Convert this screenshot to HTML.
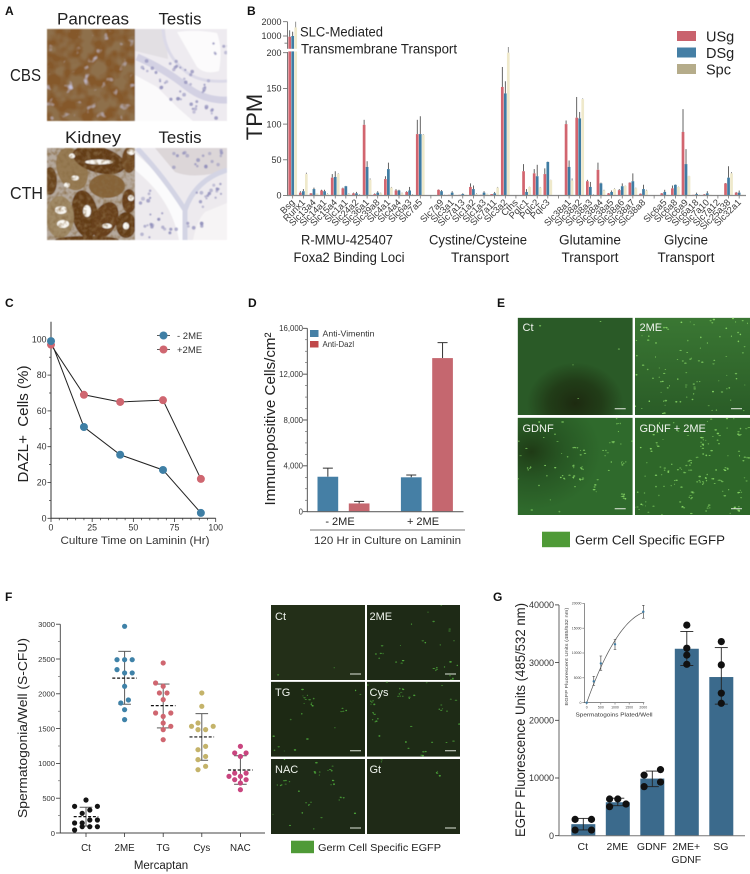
<!DOCTYPE html>
<html lang="en">
<head>
<meta charset="utf-8">
<title>Multi-panel figure</title>
<style>
html,body{margin:0;padding:0;background:#fff;}
svg{display:block;font-family:"Liberation Sans",sans-serif;}
.pl{font-weight:bold;font-size:12px;fill:#111;}
.im{font-size:11px;fill:#f0f4ee;}
</style>
</head>
<body>
<svg id="fig" xmlns="http://www.w3.org/2000/svg" width="750" height="874" viewBox="0 0 750 874">
<defs>
<filter id="mot1" x="0" y="0" width="1" height="1"><feTurbulence type="fractalNoise" baseFrequency="0.085" numOctaves="2" seed="4"/><feColorMatrix values="0 0 0 0 0.27 0 0 0 0 0.16 0 0 0 0 0.07 3.4 0 0 0 -1.2"/></filter>
<filter id="mot2" x="0" y="0" width="1" height="1"><feTurbulence type="fractalNoise" baseFrequency="0.11" numOctaves="2" seed="9"/><feColorMatrix values="0 0 0 0 0.56 0 0 0 0 0.54 0 0 0 0 0.72 0 5 0 0 -3.25"/></filter>
<filter id="mot3" x="0" y="0" width="1" height="1"><feTurbulence type="fractalNoise" baseFrequency="0.25" numOctaves="2" seed="2"/><feColorMatrix values="0 0 0 0 0.25 0 0 0 0 0.15 0 0 0 0 0.06 2 0 0 0 -0.85"/></filter>
<filter id="soft" x="-5%" y="-5%" width="110%" height="110%"><feGaussianBlur stdDeviation="0.5"/></filter>
<radialGradient id="gEct" cx=".5" cy=".88" r=".42"><stop offset="0" stop-color="#1d2a10"/><stop offset=".55" stop-color="#1f3514" stop-opacity=".8"/><stop offset="1" stop-color="#1f3514" stop-opacity="0"/></radialGradient>
<linearGradient id="gE2" x1="0" y1="0" x2="0" y2="1"><stop offset="0" stop-color="#3a7733"/><stop offset="1" stop-color="#2a5c27"/></linearGradient>
<radialGradient id="gEg" cx=".12" cy=".35" r=".6"><stop offset="0" stop-color="#1f3a15"/><stop offset=".5" stop-color="#224a1e" stop-opacity=".55"/><stop offset="1" stop-color="#224a1e" stop-opacity="0"/></radialGradient>
</defs>
<rect width="750" height="874" fill="#fff"/>

<g>
  <g id="imgA" filter="url(#soft)"></g>
  <text class="pl" x="5" y="15">A</text>
  <text x="93" y="24.5" text-anchor="middle" font-size="17" fill="#222" textLength="72" lengthAdjust="spacingAndGlyphs">Pancreas</text>
  <text x="180" y="24.5" text-anchor="middle" font-size="17" fill="#222" textLength="43" lengthAdjust="spacingAndGlyphs">Testis</text>
  <text x="93" y="143" text-anchor="middle" font-size="17" fill="#222" textLength="56" lengthAdjust="spacingAndGlyphs">Kidney</text>
  <text x="180" y="143" text-anchor="middle" font-size="17" fill="#222" textLength="43" lengthAdjust="spacingAndGlyphs">Testis</text>
  <text x="10" y="81" font-size="17.5" fill="#222" textLength="31" lengthAdjust="spacingAndGlyphs">CBS</text>
  <text x="10" y="199" font-size="17.5" fill="#222" textLength="33" lengthAdjust="spacingAndGlyphs">CTH</text>
</g>

<g>
  <text class="pl" x="247" y="15">B</text>
  <g id="chartB"></g>
  <text x="300" y="36.5" font-size="13.5" fill="#222" textLength="83" lengthAdjust="spacingAndGlyphs">SLC-Mediated</text>
  <text x="301" y="53.5" font-size="13.5" fill="#222" textLength="156" lengthAdjust="spacingAndGlyphs">Transmembrane Transport</text>
  <text transform="translate(262,117) rotate(-90)" text-anchor="middle" font-size="22" fill="#222">TPM</text>
  <text x="347" y="244.5" text-anchor="middle" font-size="13.5" fill="#222" textLength="92" lengthAdjust="spacingAndGlyphs">R-MMU-425407</text>
  <text x="349" y="262" text-anchor="middle" font-size="13.5" fill="#222" textLength="111" lengthAdjust="spacingAndGlyphs">Foxa2 Binding Loci</text>
  <text x="478" y="244.5" text-anchor="middle" font-size="13.5" fill="#222" textLength="98" lengthAdjust="spacingAndGlyphs">Cystine/Cysteine</text>
  <text x="480" y="262" text-anchor="middle" font-size="13.5" fill="#222" textLength="58" lengthAdjust="spacingAndGlyphs">Transport</text>
  <text x="590" y="244.5" text-anchor="middle" font-size="13.5" fill="#222" textLength="62" lengthAdjust="spacingAndGlyphs">Glutamine</text>
  <text x="590" y="262" text-anchor="middle" font-size="13.5" fill="#222" textLength="57" lengthAdjust="spacingAndGlyphs">Transport</text>
  <text x="686" y="244.5" text-anchor="middle" font-size="13.5" fill="#222" textLength="44" lengthAdjust="spacingAndGlyphs">Glycine</text>
  <text x="686" y="262" text-anchor="middle" font-size="13.5" fill="#222" textLength="57" lengthAdjust="spacingAndGlyphs">Transport</text>
  <g>
    <rect x="677" y="31" width="19" height="10" fill="#c9626d"/>
    <text x="706" y="41.5" font-size="14.5" fill="#222">USg</text>
    <rect x="677" y="47.5" width="19" height="10" fill="#457fa5"/>
    <text x="706" y="58" font-size="14.5" fill="#222">DSg</text>
    <rect x="677" y="64" width="19" height="10" fill="#b5ac8a"/>
    <text x="706" y="74.5" font-size="14.5" fill="#222">Spc</text>
  </g>
</g>

<g>
  <text class="pl" x="5" y="307">C</text>
  <g id="chartC"></g>
  <text x="135" y="544" text-anchor="middle" font-size="11" fill="#333" textLength="149" lengthAdjust="spacingAndGlyphs">Culture Time on Laminin (Hr)</text>
  <text transform="translate(28,424) rotate(-90)" text-anchor="middle" font-size="15" fill="#222" textLength="117" lengthAdjust="spacingAndGlyphs" style="white-space:pre">DAZL+  Cells (%)</text>
</g>

<g>
  <text class="pl" x="248" y="307">D</text>
  <g id="chartD"></g>
  <line x1="310" y1="530" x2="465" y2="530" stroke="#777" stroke-width="1"/>
  <text x="387.5" y="544" text-anchor="middle" font-size="11" fill="#333" textLength="147" lengthAdjust="spacingAndGlyphs">120 Hr in Culture on Laminin</text>
  <text transform="translate(275,419) rotate(-90)" text-anchor="middle" font-size="15" fill="#222" textLength="173" lengthAdjust="spacingAndGlyphs">Immunopositive Cells/cm²</text>
  <g>
    <rect x="310" y="330" width="8.5" height="7" fill="#457fa5"/>
    <text x="322.5" y="336.5" font-size="7.8" fill="#333" textLength="52" lengthAdjust="spacingAndGlyphs">Anti-Vimentin</text>
    <rect x="310" y="341" width="8.5" height="6.5" fill="#c0484a"/>
    <text x="322.5" y="347" font-size="7.8" fill="#333">Anti-Dazl</text>
  </g>
</g>

<g>
  <text class="pl" x="497" y="307">E</text>
  <g id="imgE"></g>
  <text class="im" x="522.5" y="331">Ct</text>
  <text class="im" x="639.5" y="331">2ME</text>
  <text class="im" x="522.5" y="432">GDNF</text>
  <text class="im" x="639.5" y="432">GDNF + 2ME</text>
  <rect x="542" y="531.7" width="28" height="15.5" fill="#4f9a37"/>
  <text x="575" y="544.5" font-size="12.5" fill="#222" textLength="150" lengthAdjust="spacingAndGlyphs">Germ Cell Specific EGFP</text>
</g>

<g>
  <text class="pl" x="5" y="601">F</text>
  <g id="chartF"></g>
  <text x="161" y="869" text-anchor="middle" font-size="11.5" fill="#222">Mercaptan</text>
  <text transform="translate(27,728) rotate(-90)" text-anchor="middle" font-size="12.5" fill="#222" textLength="180" lengthAdjust="spacingAndGlyphs">Spermatogonia/Well (S-CFU)</text>
  <g id="imgF"></g>
  <text class="im" x="275" y="620">Ct</text>
  <text class="im" x="369.5" y="620">2ME</text>
  <text class="im" x="275" y="696">TG</text>
  <text class="im" x="369.5" y="696">Cys</text>
  <text class="im" x="275" y="773">NAC</text>
  <text class="im" x="369.5" y="773">Gt</text>
  <rect x="291" y="840.7" width="23" height="12.5" fill="#4f9a37"/>
  <text x="318" y="851" font-size="10.3" fill="#222" textLength="123" lengthAdjust="spacingAndGlyphs">Germ Cell Specific EGFP</text>
</g>

<g>
  <text class="pl" x="493" y="601">G</text>
  <g id="chartG"></g>
  <text transform="translate(525,720) rotate(-90)" text-anchor="middle" font-size="13.5" fill="#222" textLength="234" lengthAdjust="spacingAndGlyphs">EGFP Fluorescence Units (485/532 nm)</text>
  <g id="chartInset"></g>
  <text x="614" y="716.7" text-anchor="middle" font-size="5.4" fill="#333" textLength="77" lengthAdjust="spacingAndGlyphs">Spermatogoins Plated/Well</text>
  <text transform="translate(568,656.6) rotate(-90)" text-anchor="middle" font-size="4.6" fill="#444" textLength="98" lengthAdjust="spacingAndGlyphs">EGFP Fluorescent Units (485/532 nm)</text>
</g>
</svg>

<script>
// ---- Panel B data ----
const bGenes = ["Bsg","Runx1","Slc13a4","Slc14a1","Slc15a4","Slc1a1","Slc24a2","Slc36a1","Slc39a8","Slc4a1","Slc4a4","Slc6a3","Slc7a5","","Slc7a9","Slc3a1","Slc7a13","Slc1a2","Slc1a3","Slc7a11","Slc3a2","Cths","Pqlc1","Pqlc2","Pqlc3","","Slc38a1","Slc38a2","Slc38a3","Slc38a4","Slc38a5","Slc38a6","Slc38a7","Slc38a8","","Slc6a5","Slc6a8","Slc6a9","Slc6a18","Slc7a10","Slc7a12","Slc25a38","Slc32a1"];
const bUsg = [950,4,3,7,25,10,3,99,2,23,7,5,86,0,8,1,1,12,1,2,152,0,34,31,30,0,100,109,20,36,3,7.5,18,2.5,0,3,10,89,1,1.5,0,17,4];
const bUsgErr = [1400,6,3.5,8,30,11,4,106,3,27,9,6,106,0,8.5,1,1,17,1,2,180,0,44,37,38,0,105,138,22,46,3.5,9,18.5,3,0,3.5,14,121,1,2,0,17.5,5];
const bDsg = [1000,6,9,6,26,13,3,40,4,37,7,7,86,0,6,4,2,9,4,3,143,0,5,27,47,0,40,108,12,17,5,13,20,9,0,5,15,44,2,3,0,25,4];
const bDsgErr = [1300,9,11,8,34,13.5,5,48,6,46,8,12,111,0,7.5,6,3,14,6,5,160,0,9,43,47.5,0,49,117,19,18,7,17,31,15,0,8,15.5,65,4,6,0,41,7];
const bSpc = [1600,30,3,2,30,2,1,22,3,11,3,1,85,0,0.5,1,1,2,2,11,200,0,12,11,21.5,0,21,135,1,7,9,13.5,10,7,0,1,12,27,0.5,1,0,31,1];
const bSpcErr = [2000,32,3,3,31,3,2,24,4,12,4,2,86,0,1,1,1,3,2.5,12,208,0,12.5,12,22,0,24,136,2,8,10,14,11,8,0,1,12.5,27.5,1,1,0,33,1];
const bTicksLow = [0,50,100,150,200];
const bTicksHigh = [1000,2000];
// ---- Panel C data ----
const cHours = [0,20,42,68,91];
const cMinus2me = [99,51,35.5,27,3];
const cPlus2me = [97,69,65,66,22];
const cXTicks = [0,25,50,75,100];
const cYTicks = [0,20,40,60,80,100];
// ---- Panel D data ----
const dGroups = ["- 2ME","+ 2ME"];
const dVimentin = [3050,3000];
const dVimentinErr = [3800,3200];
const dDazl = [720,13400];
const dDazlErr = [900,14750];
const dYTicks = [0,4000,8000,12000,16000];
// ---- Panel F data ----
const fCats = ["Ct","2ME","TG","Cys","NAC"];
const fMeans = [235,2225,1830,1380,905];
const fSdLow = [100,1850,1510,1045,700];
const fSdHigh = [370,2610,2140,1715,1110];
const fCtValues = [474,383,383,283,330,144,144,187,187,43,91,91,91];
const fCtSlots = [0,-3,3,-1,1,-3,-1,1,3,-3,-1,1,3];
const f2meValues = [2970,2490,2490,2490,2347,2300,2300,2108,1868,1911,1772,1629];
const f2meSlots = [0,-2,0,2,-2,0,2,0,-1,1,0,0];
const fTgValues = [2443,2155,2108,2012,2012,1916,1724,1724,1676,1580,1485,1533,1341];
const fTgSlots = [0,-2,0,-1,1,0,-2,2,0,0,0,2,0];
const fCysValues = [2012,1820,1580,1533,1533,1485,1485,1197,1245,1100,1054,910,958];
const fCysSlots = [0,0,-1,-2.7,3,-1,1,-1,1,1,-1,-1,1];
const fNacValues = [1245,1150,1150,1100,860,860,814,814,766,766,718,622];
const fNacSlots = [0,-1.5,1.5,0,-1.5,1.5,-3,0,-1.5,1.5,0,0];
const fYTicks = [0,500,1000,1500,2000,2500,3000];
// ---- Panel G data ----
const gCats = ["Ct","2ME","GDNF","2ME+","SG"];
const gMeans = [2000,5800,9900,32400,27500];
const gErrLow = [1000,5200,8500,29500,22800];
const gErrHigh = [3000,6500,11200,35400,32600];
const gPoints = [[2830,2830,980,980],[6360,6360,5030,5490],[10500,11450,8500,9300],[36500,32500,31300,29700],[33640,29600,24700,22950]];
const gPointSlots = [[-1,1,-1,1],[-1,0,-1,1],[-1,1,-1,1],[0,0,0,0],[0,0,0,0]];
const gYTicks = [0,10000,20000,30000,40000];
// ---- Inset data ----
const insetX = [0,250,500,1000,2000];
const insetY = [0,4300,7900,11750,18300];
const insetLow = [0,3500,6500,10700,17000];
const insetHigh = [0,5300,9400,12700,19600];
const insetXTicks = [0,500,1000,1500,2000];
const insetYTicks = [0,5000,10000,15000,20000];

const NS = "http://www.w3.org/2000/svg";
function mk(tag, attrs, parent, txt){
  const n = document.createElementNS(NS, tag);
  for (const k in attrs) n.setAttribute(k, attrs[k]);
  if (txt !== undefined) n.textContent = txt;
  parent.appendChild(n);
  return n;
}
function drawLine(p, x1, y1, x2, y2, stroke, w, name){
  const l = mk('line', {x1:x1, y1:y1, x2:x2, y2:y2, stroke:stroke, 'stroke-width':w}, p);
  
  
  return l;
}
function drawRect(p, x, y, w, h, fill, name){
  const r = mk('rect', {x:x, y:y, width:w, height:Math.max(0,h), fill:fill}, p);
  
  
  return r;
}
function drawDot(p, x, y, rad, fill, name){
  const c = mk('circle', {cx:x, cy:y, r:rad, fill:fill}, p);
  
  
  return c;
}
function drawLabel(p, x, y, s, size, anchor, fill, name){
  const t = mk('text', {x:x, y:y, 'font-size':size, 'text-anchor':anchor, fill:fill}, p, s);
  
  
  return t;
}
function $(id){ return document.getElementById(id); }
function fmt(v){ return String(v).replace(/\B(?=(\d{3})+$)/g, ','); }

// ---------- Panel B ----------
(function(){
  const g = $('chartB');
  const xB = i => 292.7 + i * 10.63;
  const yB = v => v <= 210 ? 195.5 - v * 0.714 : 36 - (v - 1000) * 0.0143;
  const barW = 2.7;
  const series = [
    {vals:bUsg, errs:bUsgErr, dx:-3, fill:'#d2656f', key:'usg'},
    {vals:bDsg, errs:bDsgErr, dx:0, fill:'#3f7ca3', key:'dsg'},
    {vals:bSpc, errs:bSpcErr, dx:3, fill:'#efe9cb', key:'spc'}
  ];
  bGenes.forEach((gene, i) => {
    if (!gene) return;
    series.forEach(s => {
      const cx = xB(i) + s.dx;
      drawLine(g, cx, yB(s.vals[i]), cx, yB(s.errs[i]), s.key === 'spc' ? '#777' : '#3d3d3d', 0.8, 'error-bar-' + s.key + '-' + gene);
      drawRect(g, cx - barW / 2, yB(s.vals[i]), barW, 195.5 - yB(s.vals[i]), s.fill, 'bar-' + s.key + '-' + gene);
    });
  });
  drawRect(g, 283, 48.8, 22, 2.6, '#ffffff', 'axis-break');
  drawLine(g, 287.5, 195.5, 287.5, 52, '#777', 1, 'y-axis-lower');
  drawLine(g, 287.5, 48.8, 287.5, 21.7, '#777', 1, 'y-axis-upper');
  drawLine(g, 287, 195.5, 746, 195.5, '#8a8a8a', 1.2, 'x-axis-b');
  bTicksLow.forEach(v => {
    drawLine(g, 283, yB(v), 287.5, yB(v), '#666', 0.8, 'y-tick-' + v);
    drawLabel(g, 281.5, yB(v) + 3.2, String(v), 9, 'end', '#333', 'y-tick-label-' + v);
  });
  bTicksHigh.forEach(v => {
    drawLine(g, 283, yB(v), 287.5, yB(v), '#666', 0.8, 'y-tick-' + v);
    drawLabel(g, 281.5, yB(v) + 3.2, String(v), 9, 'end', '#333', 'y-tick-label-' + v);
  });
  drawLine(g, 284.5, yB(500), 287.5, yB(500), '#666', 0.8, 'y-minor-tick-500');
  bGenes.forEach((gene, i) => {
    drawLine(g, xB(i), 195.5, xB(i), 198.5, '#666', 0.7, 'x-tick-' + (gene || 'gap'));
    if (!gene) return;
    const t = drawLabel(g, 0, 0, gene, 9.3, 'end', '#3a3a3a', 'gene-label-' + gene);
    t.setAttribute('transform', 'translate(' + (xB(i) + 2.5) + ',203) rotate(-45)');
  });
})();

// ---------- Panel C ----------
(function(){
  const g = $('chartC');
  const xC = v => 51 + v * 1.647;
  const yC = v => 518.3 - v * 1.79;
  drawLine(g, 51, 518.3, 51, 321.7, '#333', 1, 'y-axis-c');
  drawLine(g, 51, 518.3, 215.7, 518.3, '#333', 1, 'x-axis-c');
  cYTicks.forEach(v => {
    drawLine(g, 47.5, yC(v), 51, yC(v), '#333', 0.8, 'y-tick-c-' + v);
    drawLabel(g, 46.5, yC(v) + 3, String(v), 8.8, 'end', '#333', 'y-tick-label-c-' + v);
    if (v < 100) drawLine(g, 49, yC(v + 10), 51, yC(v + 10), '#333', 0.7, 'y-minor-tick-c-' + (v + 10));
  });
  cXTicks.forEach(v => {
    drawLine(g, xC(v), 518.3, xC(v), 522, '#333', 0.8, 'x-tick-c-' + v);
    drawLabel(g, xC(v), 530.5, String(v), 8.8, 'middle', '#333', 'x-tick-label-c-' + v);
    if (v < 100) for (let m = 5; m < 25; m += 5) drawLine(g, xC(v + m), 518.3, xC(v + m), 520.3, '#333', 0.7, 'x-minor-tick-c-' + (v + m));
  });
  const pathOf = vals => cHours.map((h, i) => (i ? 'L' : 'M') + xC(h) + ' ' + yC(vals[i])).join('');
  const plus = mk('path', {d:pathOf(cPlus2me), fill:'none', stroke:'#222', 'stroke-width':1}, g);
  
  
  const minus = mk('path', {d:pathOf(cMinus2me), fill:'none', stroke:'#222', 'stroke-width':1}, g);
  
  
  cHours.forEach((h, i) => drawDot(g, xC(h), yC(cPlus2me[i]), 4, '#cf6670', 'point-plus-2me-' + h));
  cHours.forEach((h, i) => drawDot(g, xC(h), yC(cMinus2me[i]), 4, '#3f7fa5', 'point-minus-2me-' + h));
  drawLine(g, 157, 335.5, 170, 335.5, '#333', 0.8, 'legend-line-minus-2me');
  drawDot(g, 163.5, 335.5, 4, '#3f7fa5', 'legend-marker-minus-2me');
  drawLabel(g, 177, 339, '- 2ME', 9.5, 'start', '#333', 'legend-label-minus-2me');
  drawLine(g, 157, 349.5, 170, 349.5, '#333', 0.8, 'legend-line-plus-2me');
  drawDot(g, 163.5, 349.5, 4, '#cf6670', 'legend-marker-plus-2me');
  drawLabel(g, 177, 353, '+2ME', 9.5, 'start', '#333', 'legend-label-plus-2me');
})();

// ---------- Panel D ----------
(function(){
  const g = $('chartD');
  const yD = v => 511.7 - v * 0.011463;
  const xD = (grp, s) => 317.5 + grp * 83.4 + s * 31.3;
  const w = 20.7;
  const bar = (vals, errs, s, fill, key) => vals.forEach((v, i) => {
    const x = xD(i, s);
    drawLine(g, x + w / 2, yD(v), x + w / 2, yD(errs[i]), '#333', 1, 'error-bar-' + key + '-' + i);
    drawLine(g, x + w / 2 - 5, yD(errs[i]), x + w / 2 + 5, yD(errs[i]), '#333', 1, 'error-cap-' + key + '-' + i);
    drawRect(g, x, yD(v), w, yD(0) - yD(v), fill, 'bar-' + key + '-' + i);
  });
  bar(dVimentin, dVimentinErr, 0, '#457fa5', 'vimentin');
  bar(dDazl, dDazlErr, 1, '#c5676f', 'dazl');
  drawLine(g, 307.3, 511.7, 307.3, 328.3, '#444', 0.9, 'y-axis-d');
  drawLine(g, 307, 511.7, 463.5, 511.7, '#666', 1.1, 'x-axis-d');
  dYTicks.forEach(v => {
    drawLine(g, 303, yD(v), 307.3, yD(v), '#333', 0.8, 'y-tick-d-' + v);
    drawLabel(g, 303, yD(v) + 2.8, fmt(v), 7.8, 'end', '#333', 'y-tick-label-d-' + v);
    if (v < 16000) for (let m = 1000; m < 4000; m += 1000) drawLine(g, 305, yD(v + m), 307.3, yD(v + m), '#555', 0.6, 'y-minor-tick-d-' + (v + m));
  });
  dGroups.forEach((c, i) => {
    drawLabel(g, 340 + i * 83, 525, c, 11, 'middle', '#222', 'x-group-label-' + i);
  });
})();

// ---------- Panel F dot plot ----------
(function(){
  const g = $('chartF');
  const yF = v => 833 - v * 0.0696;
  const xF = i => 86 + i * 38.6;
  const slot = 3.8;
  const sets = [
    {vals:fCtValues, slots:fCtSlots, color:'#141414'},
    {vals:f2meValues, slots:f2meSlots, color:'#3f82a8'},
    {vals:fTgValues, slots:fTgSlots, color:'#cf6670'},
    {vals:fCysValues, slots:fCysSlots, color:'#c4b36a'},
    {vals:fNacValues, slots:fNacSlots, color:'#c9457f'}
  ];
  drawLine(g, 60.3, 833, 60.3, 624.3, '#444', 0.9, 'y-axis-f');
  drawLine(g, 60, 833, 265, 833, '#444', 0.9, 'x-axis-f');
  fYTicks.forEach(v => {
    drawLine(g, 56, yF(v), 60.3, yF(v), '#333', 0.8, 'y-tick-f-' + v);
    drawLabel(g, 55, yF(v) + 2.8, String(v), 7.6, 'end', '#333', 'y-tick-label-f-' + v);
    if (v < 3000) drawLine(g, 58, yF(v + 250), 60.3, yF(v + 250), '#555', 0.6, 'y-minor-tick-f-' + (v + 250));
  });
  fCats.forEach((c, i) => {
    drawLine(g, xF(i), 833, xF(i), 837, '#333', 0.8, 'x-tick-f-' + c);
    drawLabel(g, xF(i), 851, c, 9.8, 'middle', '#222', 'x-tick-label-f-' + c);
    drawLine(g, xF(i), yF(fSdLow[i]), xF(i), yF(fSdHigh[i]), '#5a5a5a', 1, 'sd-bar-' + c);
    drawLine(g, xF(i) - 6.3, yF(fSdLow[i]), xF(i) + 6.3, yF(fSdLow[i]), '#5a5a5a', 1, 'sd-cap-low-' + c);
    drawLine(g, xF(i) - 6.3, yF(fSdHigh[i]), xF(i) + 6.3, yF(fSdHigh[i]), '#5a5a5a', 1, 'sd-cap-high-' + c);
    sets[i].vals.forEach((v, k) => {
      drawDot(g, xF(i) + sets[i].slots[k] * slot, yF(v), 2.6, sets[i].color, 'point-' + c + '-' + k);
    });
    const d = drawLine(g, xF(i) - 12.3, yF(fMeans[i]), xF(i) + 12.3, yF(fMeans[i]), '#111', 1.2, 'mean-line-' + c);
    d.setAttribute('stroke-dasharray', '3 1.8');
  });
})();

// ---------- Panel G ----------
(function(){
  const g = $('chartG');
  const yG = v => 835.7 - v * 0.00577;
  const xG = i => 583.3 + i * 34.5;
  gCats.forEach((c, i) => {
    drawRect(g, xG(i) - 12, yG(gMeans[i]), 24, yG(0) - yG(gMeans[i]), '#3b6a8c', 'bar-' + c);
    drawLine(g, xG(i), yG(gErrLow[i]), xG(i), yG(gErrHigh[i]), '#222', 0.9, 'error-bar-' + c);
    drawLine(g, xG(i) - 6.5, yG(gErrLow[i]), xG(i) + 6.5, yG(gErrLow[i]), '#222', 0.9, 'error-cap-low-' + c);
    drawLine(g, xG(i) - 6.5, yG(gErrHigh[i]), xG(i) + 6.5, yG(gErrHigh[i]), '#222', 0.9, 'error-cap-high-' + c);
    gPoints[i].forEach((v, k) => {
      drawDot(g, xG(i) + gPointSlots[i][k] * 8.2, yG(v), 3.6, '#111', 'point-' + c + '-' + k);
    });
    drawLabel(g, xG(i) - 0.5, 850, c, 10.5, 'middle', '#222', 'x-tick-label-g-' + c);
  });
  drawLabel(g, xG(3) - 0.5, 863, 'GDNF', 10.5, 'middle', '#222', 'x-tick-label-g-gdnf-line-2');
  drawLine(g, 559, 835.7, 559, 605, '#555', 0.9, 'y-axis-g');
  drawLine(g, 559, 835.7, 745, 835.7, '#777', 1, 'x-axis-g');
  gYTicks.forEach(v => {
    drawLine(g, 555, yG(v), 559, yG(v), '#333', 0.8, 'y-tick-g-' + v);
    drawLabel(g, 554, yG(v) + 3.2, String(v), 9, 'end', '#333', 'y-tick-label-g-' + v);
  });
  // inset
  const h = $('chartInset');
  const xI = v => 586.7 + v * 0.0283;
  const yI = v => 702.7 - v * 0.00497;
  drawLine(h, 584.3, 702.7, 584.3, 603.3, '#444', 0.6, 'inset-y-axis');
  drawLine(h, 584.3, 702.7, 644.3, 702.7, '#444', 0.6, 'inset-x-axis');
  insetYTicks.forEach(v => {
    drawLine(h, 582.3, yI(v), 584.3, yI(v), '#444', 0.5, 'inset-y-tick-' + v);
    drawLabel(h, 581.5, yI(v) + 1.2, String(v), 3.5, 'end', '#444', 'inset-y-tick-label-' + v);
  });
  insetXTicks.forEach(v => {
    drawLine(h, xI(v), 702.7, xI(v), 704.5, '#444', 0.5, 'inset-x-tick-' + v);
    drawLabel(h, xI(v), 708.5, String(v), 3.5, 'middle', '#444', 'inset-x-tick-label-' + v);
  });
  // least-squares quadratic through the origin, fitted to the inset data
  let s2 = 0, s3 = 0, s4 = 0, sy1 = 0, sy2 = 0;
  insetX.forEach((x, i) => { const u = x / 1000, v = insetY[i]; s2 += u * u; s3 += u * u * u; s4 += u * u * u * u; sy1 += u * v; sy2 += u * u * v; });
  const det = s2 * s4 - s3 * s3;
  const qa = (sy1 * s4 - sy2 * s3) / det, qb = (s2 * sy2 - s3 * sy1) / det;
  const xMax = insetX[insetX.length - 1];
  let d = '';
  for (let k = 0; k <= 40; k++) {
    const x = xMax * k / 40, u = x / 1000;
    d += (k ? 'L' : 'M') + xI(x).toFixed(2) + ' ' + yI(qa * u + qb * u * u).toFixed(2);
  }
  const curve = mk('path', {d:d, fill:'none', stroke:'#555', 'stroke-width':0.7}, h);
  
  
  insetX.forEach((x, i) => {
    if (insetHigh[i] > insetLow[i]) {
      drawLine(h, xI(x), yI(insetLow[i]), xI(x), yI(insetHigh[i]), '#333', 0.6, 'inset-error-bar-' + x);
      drawLine(h, xI(x) - 1.3, yI(insetLow[i]), xI(x) + 1.3, yI(insetLow[i]), '#333', 0.5, 'inset-error-cap-low-' + x);
      drawLine(h, xI(x) - 1.3, yI(insetHigh[i]), xI(x) + 1.3, yI(insetHigh[i]), '#333', 0.5, 'inset-error-cap-high-' + x);
    }
    drawDot(h, xI(x), yI(insetY[i]), 1.2, '#3f7ca3', 'inset-point-' + x);
  });
})();

// ---------- Micrographs (decorative texture only) ----------
function prng(seed){ let s = seed >>> 0; return () => { s = (s + 0x6D2B79F5) >>> 0; let t = Math.imul(s ^ (s >>> 15), 1 | s); t = (t + Math.imul(t ^ (t >>> 7), 61 | t)) ^ t; return ((t ^ (t >>> 14)) >>> 0) / 4294967296; }; }
function frame(parent, x, y, w, h, name){
  const s = mk('svg', {x:x, y:y, width:w, height:h, viewBox:'0 0 ' + w + ' ' + h}, parent);
  
  
  return s;
}
function specks(s, w, h, n, seed, color, cluster){
  const r = prng(seed);
  for (let i = 0; i < n; i++) {
    const cx = r() * w, cy = r() * h;
    const parts = (cluster && r() < 0.3) ? 4 : 1;
    for (let k = 0; k < parts; k++) {
      mk('ellipse', {cx:(cx + (parts > 1 ? (r() - .5) * 6 : 0)).toFixed(1), cy:(cy + (parts > 1 ? (r() - .5) * 6 : 0)).toFixed(1), rx:(0.5 + r() * 0.9).toFixed(2), ry:(0.4 + r() * 0.5).toFixed(2), fill:color, opacity:(0.55 + r() * 0.45).toFixed(2)}, s);
    }
  }
}
function cells(s, pts, seed, spread, n, color){
  const r = prng(seed);
  pts.forEach(p => {
    for (let i = 0; i < n; i++) {
      mk('circle', {cx:(p[0] + (r() - .5) * spread).toFixed(1), cy:(p[1] + (r() - .5) * spread).toFixed(1), r:(1.1 + r() * .9).toFixed(2), fill:color, opacity:(0.45 + r() * 0.35).toFixed(2)}, s);
    }
  });
}

// Panel A
(function(){
  const g = $('imgA');
  // Pancreas
  const p = frame(g, 47, 29, 88, 92, 'micrograph-pancreas');
  mk('rect', {width:88, height:92, fill:'#85592c'}, p);
  mk('rect', {width:88, height:92, filter:'url(#mot1)'}, p);
  mk('rect', {width:88, height:92, filter:'url(#mot2)'}, p);
  // Testis top
  const t1 = frame(g, 135, 29, 92, 92, 'micrograph-testis-cbs');
  mk('rect', {width:92, height:92, fill:'#eeebf0'}, t1);
  mk('path', {d:'M0 0H30L33 30L0 22Z', fill:'#e2dfe3'}, t1);
  mk('path', {d:'M42 3Q60 0 82 4Q88 20 84 42Q70 46 62 38Q54 24 42 3Z', fill:'#fcfbfc'}, t1);
  mk('path', {d:'M0 46L22 58L42 78L58 92H0Z', fill:'#fbfafb'}, t1);
  mk('path', {d:'M28 0Q30 26 50 42Q64 54 92 52', fill:'none', stroke:'#dcdae8', 'stroke-width':3}, t1);
  mk('path', {d:'M2 28Q30 40 52 58Q70 72 92 71', fill:'none', stroke:'#d3d1e3', 'stroke-width':7}, t1);
  cells(t1, [[40,38],[52,48],[70,58],[28,52],[42,68],[58,80],[78,84],[86,20],[14,38]], 11, 15, 6, '#8d8cba');
  // Kidney
  const k = frame(g, 47, 148, 88, 92, 'micrograph-kidney');
  mk('rect', {width:88, height:92, fill:'#b5a99d'}, k);
  const tub = [
    [25,21,15,22,-20,'#967a52'],[52,12,27,13,15,'#633c18'],[60,38,18,12,0,'#866338'],[38,66,13,24,-10,'#633c18'],
    [58,72,12,19,25,'#683f1a'],[79,77,10,13,0,'#633c18'],[13,69,14,21,0,'#a08a66'],[3,33,7,14,0,'#6a451f'],
    [82,53,7,12,0,'#683f1a'],[82,12,7,13,0,'#704820'],[40,92,32,4,0,'#633c18']
  ];
  tub.forEach(t => mk('ellipse', {cx:t[0], cy:t[1], rx:t[2], ry:t[3], fill:t[5], transform:'rotate(' + t[4] + ' ' + t[0] + ' ' + t[1] + ')'}, k));
  const lum = [[25,8,3,2.5],[28,30,4,2.5],[20,37,3,2.5],[52,14,14,2.5],[40,63,4,6],[60,78,5,2.5],[79,78,3,3.5],[14,62,6,4],[16,76,6,4],[84,50,3,3],[84,4,4,3]];
  lum.forEach(t => mk('ellipse', {cx:t[0], cy:t[1], rx:t[2], ry:t[3], fill:'#fbf9f4'}, k));
  mk('rect', {width:88, height:92, filter:'url(#mot3)'}, k);
  // Testis bottom
  const t2 = frame(g, 135, 148, 92, 92, 'micrograph-testis-cth');
  mk('rect', {width:92, height:92, fill:'#edeaee'}, t2);
  mk('path', {d:'M20 0H92V22Q60 32 40 24Z', fill:'#dcd6d8'}, t2);
  mk('path', {d:'M0 5Q30 30 48 60L52 92H44Q36 50 0 22Z', fill:'#fbfbfc'}, t2);
  mk('path', {d:'M92 55L70 64Q62 72 58 92H92Z', fill:'#f6f4f5'}, t2);
  mk('path', {d:'M2 0Q30 30 50 62L50 92', fill:'none', stroke:'#d3d4e4', 'stroke-width':5}, t2);
  mk('path', {d:'M92 22Q60 32 50 62', fill:'none', stroke:'#d3d4e4', 'stroke-width':5}, t2);
  cells(t2, [[45,12],[65,12],[82,10],[12,50],[22,70],[35,85],[12,82],[65,52],[75,48],[60,80],[82,40]], 23, 15, 6, '#8d8cba');
})();

// Panel E
(function(){
  const g = $('imgE');
  const a = frame(g, 517.7, 317.7, 115, 97.3, 'micrograph-e-ct');
  mk('rect', {width:115, height:97.3, fill:'#2a5a27'}, a);
  mk('rect', {width:115, height:97.3, fill:'url(#gEct)'}, a);
  specks(a, 115, 97, 5, 3, '#7fc95f', false);
  const b = frame(g, 635, 317.7, 115, 97.3, 'micrograph-e-2me');
  mk('rect', {width:115, height:97.3, fill:'url(#gE2)'}, b);
  specks(b, 115, 97, 95, 8, '#86d564', false);
  const c = frame(g, 517.7, 417.7, 115, 97.3, 'micrograph-e-gdnf');
  mk('rect', {width:115, height:97.3, fill:'#2f6a2c'}, c);
  mk('rect', {width:115, height:97.3, fill:'url(#gEg)'}, c);
  specks(c, 115, 97, 45, 12, '#86d564', true);
  const d = frame(g, 635, 417.7, 115, 97.3, 'micrograph-e-gdnf-2me');
  mk('rect', {width:115, height:97.3, fill:'#2e6729'}, d);
  specks(d, 115, 97, 95, 17, '#86d564', true);
  [[b,'2me',96],[a,'ct',97],[c,'gdnf',97],[d,'gdnf-2me',96]].forEach(o => {
    drawLine(o[0], o[2], 91, o[2] + 11, 91, '#e6ece2', 1, 'scale-bar-e-' + o[1]);
  });
})();

// Panel F images
(function(){
  const g = $('imgF');
  const xs = [271, 367], ys = [605, 681.7, 759];
  const names = ['ct','2me','tg','cys','nac','gt'];
  const bases = ['#232f18','#1e2a16','#1d2914','#1e2b16','#1e2a17','#1f2a17'];
  const counts = [2,22,18,26,16,2];
  names.forEach((nm, i) => {
    const w = i % 2 ? 93 : 94, h = 75;
    const s = frame(g, xs[i % 2], ys[Math.floor(i / 2)], w, h, 'micrograph-f-' + nm);
    mk('rect', {width:w, height:h, fill:bases[i]}, s);
    specks(s, w, h, counts[i], 31 + i * 7, '#4fae3c', true);
    drawLine(s, w - 15, 69, w - 4, 69, '#dfe5da', 1, 'scale-bar-f-' + nm);
  });
})();
</script>
</body>
</html>
